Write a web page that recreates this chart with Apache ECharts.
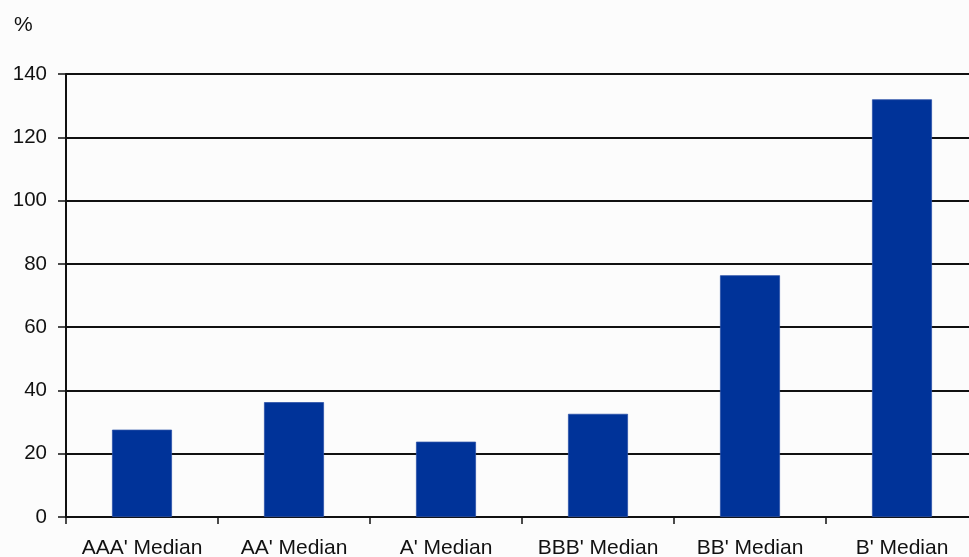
<!DOCTYPE html>
<html>
<head>
<meta charset="utf-8">
<script src="https://cdn.jsdelivr.net/npm/echarts@6/dist/echarts.min.js"></script>
<style>
  html, body { margin: 0; padding: 0; background: #fcfcfc; overflow: hidden; }
  #chart { width: 969px; height: 557px; }
</style>
</head>
<body>
<div id="chart"></div>
<script>
// Median values by rating category, in percent
const categories = ["AAA' Median", "AA' Median", "A' Median", "BBB' Median", "BB' Median", "B' Median"];
const medianValues = [27.6, 36.3, 23.8, 32.6, 76.4, 132.0];
const yTicks = { min: 0, max: 140, step: 20 };
const unitLabel = '%';

const font = 'Liberation Sans, Arial, sans-serif';
const ink = '#111';
const rule = '#111';

const chart = echarts.init(document.getElementById('chart'), null, { renderer: 'canvas' });

chart.setOption({
  backgroundColor: '#fcfcfc',
  animation: false,
  title: {
    text: unitLabel,
    left: 9,
    top: 10,
    textStyle: { fontFamily: font, fontSize: 21, fontWeight: 'normal', color: ink }
  },
  // the last category runs slightly past the right edge of the canvas
  grid: {
    left: 66, width: 912, top: 74, height: 443,
    containLabel: false,
    outerBoundsMode: 'none'
  },
  xAxis: {
    type: 'category',
    data: categories,
    boundaryGap: true,
    axisLine: { show: true, lineStyle: { color: rule, width: 2 } },
    axisTick: { show: true, length: 7, interval: 0, lineStyle: { color: rule, width: 1.5 } },
    axisLabel: { interval: 0, margin: 21, fontFamily: font, fontSize: 21, color: ink }
  },
  yAxis: {
    type: 'value',
    min: yTicks.min,
    max: yTicks.max,
    interval: yTicks.step,
    axisLine: { show: true, lineStyle: { color: rule, width: 2 } },
    axisTick: { show: true, length: 8, lineStyle: { color: rule, width: 1.5 } },
    axisLabel: { margin: 19, fontFamily: font, fontSize: 20.5, color: ink },
    splitLine: { show: true, lineStyle: { color: rule, width: 1.8 } }
  },
  series: [{
    type: 'bar',
    data: medianValues,
    barWidth: 60,
    itemStyle: { color: '#003399', borderColor: '#2b50a8', borderWidth: 0.8 }
  }]
});
</script>
</body>
</html>
